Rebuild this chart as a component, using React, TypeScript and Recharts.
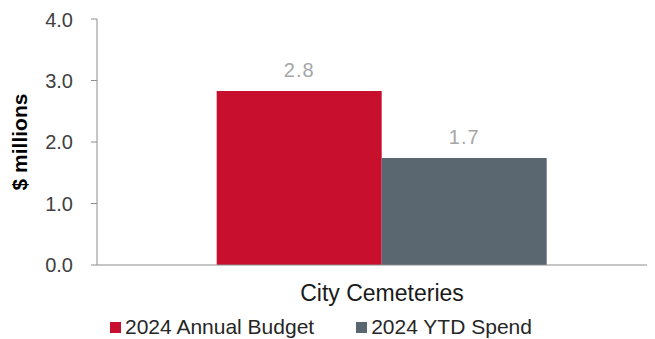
import React from "react";
import { BarChart, Bar, XAxis, YAxis, LabelList, Legend, Label } from "recharts";

const categories = ["City Cemeteries"];
const budget = [2.83];
const spend = [1.74];
const yTicks = [0, 1, 2, 3, 4];
const seriesNames = ["2024 Annual Budget", "2024 YTD Spend"];
const colors = ["#C8102E", "#5A6670"];

const data = categories.map((c, i) => ({ name: c, budget: budget[i], spend: spend[i] }));

const FONT = "'Liberation Sans', Arial, sans-serif";

const renderLegend = () => (
  <div
    style={{
      display: "flex",
      alignItems: "center",
      height: 34,
      paddingTop: 10,
      boxSizing: "border-box",
      fontFamily: FONT,
      fontSize: 21,
      color: "#262626",
      paddingLeft: 102,
    }}
  >
    {seriesNames.map((n, i) => (
      <div key={n} style={{ display: "flex", alignItems: "center", marginRight: 42 }}>
        <span style={{ width: 11, height: 11, background: colors[i], display: "inline-block", marginRight: 4 }} />
        <span>{n}</span>
      </div>
    ))}
  </div>
);

export default function App() {
  return (
    <div style={{ width: 647, height: 331, overflow: "hidden" }}>
      <BarChart
        width={670}
        height={331}
        data={data}
        margin={{ top: 11, right: 11, left: 0, bottom: 0 }}
        barCategoryGap="21%"
        barGap={0}
      >
        <XAxis
          dataKey="name"
          tickLine={false}
          stroke="#8c8c8c"
          tick={{ fill: "#1a1a1a", fontSize: 23, fontFamily: FONT }}
          height={40}
          dy={12}
        />
        <YAxis
          domain={[0, 4]}
          ticks={yTicks}
          tickFormatter={(v: number) => v.toFixed(1)}
          stroke="#8c8c8c"
          tickSize={6}
          tickMargin={18}
          width={89}
          tick={{ fill: "#404040", fontSize: 20, fontFamily: FONT }}
        >
          <Label
            value="$ millions"
            angle={-90}
            position="insideLeft"
            offset={12}
            style={{ fontFamily: FONT, fontSize: 21, fontWeight: "bold", fill: "#000", textAnchor: "middle" }}
          />
        </YAxis>
        <Legend verticalAlign="bottom" content={renderLegend} />
        <Bar dataKey="budget" name={seriesNames[0]} fill={colors[0]} isAnimationActive={false}>
          <LabelList
            dataKey="budget"
            position="top"
            offset={14}
            formatter={(v: number) => v.toFixed(1)}
            style={{ fill: "#a6a6a6", fontSize: 20, fontFamily: FONT, letterSpacing: 1 }}
          />
        </Bar>
        <Bar dataKey="spend" name={seriesNames[1]} fill={colors[1]} isAnimationActive={false}>
          <LabelList
            dataKey="spend"
            position="top"
            offset={14}
            formatter={(v: number) => v.toFixed(1)}
            style={{ fill: "#a6a6a6", fontSize: 20, fontFamily: FONT, letterSpacing: 1 }}
          />
        </Bar>
      </BarChart>
    </div>
  );
}
